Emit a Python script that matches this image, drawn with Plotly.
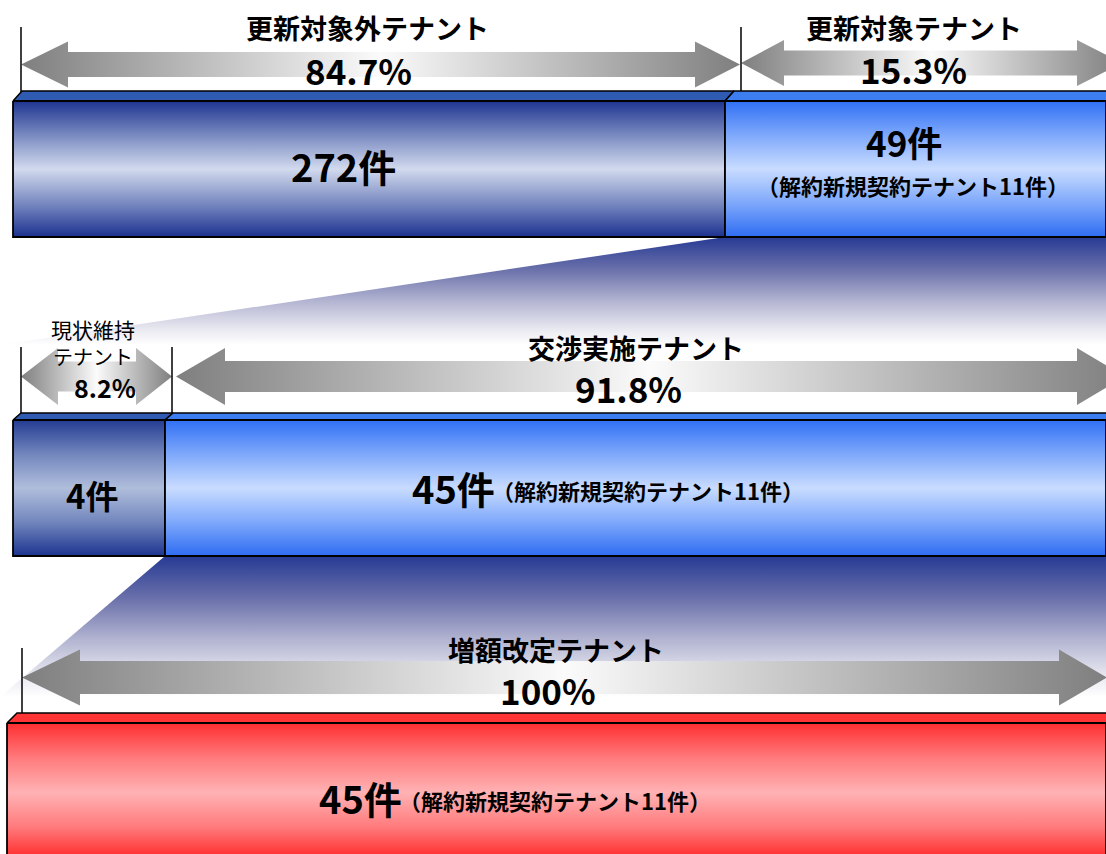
import plotly.graph_objects as go

# ---------------- data ----------------
row1_labels = ["更新対象外テナント", "更新対象テナント"]
row1_counts = [272, 49]
row1_pct = [84.7, 15.3]

row2_labels = ["現状維持\nテナント", "交渉実施テナント"]
row2_counts = [4, 45]
row2_pct = [8.2, 91.8]

row3_labels = ["増額改定テナント"]
row3_counts = [45]
row3_pct = [100]

note_label = "解約新規契約テナント"
note_count = 11

# ---------------- layout geometry (pixel space) ----------------
W, H = 1106, 854
FONT = "Noto Sans CJK JP"

ROW1 = dict(x=[13, 725, 1106], bt=91, mt=101, mb=237, dx=9)
ROW2 = dict(x=[13, 165, 1106], bt=413, mt=420, mb=556, dx=8)
ROW3 = dict(x=[7, 1106], bt=713, mt=723, mb=862, dx=10)

NAVY = [[0, "#1e3490"], [0.22, "#6e80bb"], [0.5, "#d2daee"], [0.78, "#6e80bb"], [1, "#1c3190"]]
NAVY2 = [[0, "#243c92"], [0.25, "#7286bd"], [0.5, "#b0bedc"], [0.75, "#7286bd"], [1, "#1d3490"]]
BLUE = [[0, "#3070f5"], [0.25, "#7ea8fb"], [0.5, "#c9dcff"], [0.75, "#7ea8fb"], [1, "#2e6cf2"]]
RED = [[0, "#ff2e30"], [0.25, "#ff7a7c"], [0.5, "#ffb2b4"], [0.75, "#ff7a7c"], [1, "#ff2020"]]
ARROW = [[0, "#7f7f7f"], [0.5, "#fbfbfb"], [1, "#7f7f7f"]]
SHADOW = [[0, "#263a94"], [0.3, "#6a70aa"], [0.6, "#b4b6d2"], [0.85, "#e8e8f0"], [1, "#ffffff"]]

fig = go.Figure()


def poly(xs, ys, grad=None, gtype="vertical", start=None, stop=None, color=None, line=None):
    kw = dict(x=xs + [xs[0]], y=ys + [ys[0]], mode="lines", fill="toself",
              hoverinfo="skip", showlegend=False,
              line=line or dict(width=0, color="rgba(0,0,0,0)"))
    if grad is not None:
        g = dict(type=gtype, colorscale=grad)
        if start is not None:
            g["start"] = start
            g["stop"] = stop
        kw["fillgradient"] = g
    else:
        kw["fillcolor"] = color
    fig.add_trace(go.Scatter(**kw))


def arrow(x0, x1, yc, hs, hh, hl0, hl1):
    xs = [x0, x0 + hl0, x0 + hl0, x1 - hl1, x1 - hl1, x1, x1 - hl1, x1 - hl1, x0 + hl0, x0 + hl0]
    ys = [yc, yc - hh, yc - hs, yc - hs, yc - hh, yc, yc + hh, yc + hs, yc + hs, yc + hh]
    poly(xs, ys, grad=ARROW, gtype="horizontal", start=x0, stop=x1)


def vline(x, y0, y1):
    fig.add_trace(go.Scatter(x=[x, x], y=[y0, y1], mode="lines", hoverinfo="skip",
                             showlegend=False, line=dict(color="black", width=1.5)))


def block(x0, x1, row, grad, top_color):
    bt, mt, mb, dx = row["bt"], row["mt"], row["mb"], row["dx"]
    poly([x0, x0 + dx, x1 + dx, x1], [mt, bt, bt, mt], color=top_color,
         line=dict(color="black", width=1.5))
    poly([x0, x1, x1, x0], [mt, mt, mb, mb], grad=grad, start=mt, stop=mb,
         line=dict(color="black", width=1.8))


# shadows (connectors)
poly([ROW1["x"][1], W, W, 0], [ROW1["mb"], ROW1["mb"], 345, 345],
     grad=SHADOW, start=ROW1["mb"], stop=345)
poly([ROW2["x"][1], W, W, 0], [ROW2["mb"], ROW2["mb"], 697, 697],
     grad=SHADOW, start=ROW2["mb"], stop=697)

# arrows
arrow(21, 740, 64.5, 12.5, 23, 47, 45)
arrow(741, 1122, 63, 12.5, 23, 43, 45)
arrow(21, 172, 376.5, 15, 28.5, 37, 36)
arrow(176, 1125, 376.5, 15.5, 28.5, 49, 48)
arrow(22, 1107, 677.5, 16.5, 28, 58, 48)

# tick lines
vline(21, 27, 92)
vline(741, 27, 92)
vline(21, 347, 413)
vline(172, 347, 413)
vline(22, 648, 713)

# blocks
block(ROW1["x"][0], ROW1["x"][1], ROW1, NAVY, "#2f5bb2")
block(ROW1["x"][1], ROW1["x"][2], ROW1, BLUE, "#3c7df2")
block(ROW2["x"][0], ROW2["x"][1], ROW2, NAVY2, "#2f5bb2")
block(ROW2["x"][1], ROW2["x"][2], ROW2, BLUE, "#3c7df2")
block(ROW3["x"][0], ROW3["x"][1], ROW3, RED, "#ff3535")


# ---------------- text ----------------
def pct(p):
    return f"{p:g}%" if p == int(p) else f"{p:.1f}%"


def txt(s, x, y, size, bold=True, xanchor="center"):
    fig.add_annotation(x=x, y=y, xref="x", yref="y", text=f"<b>{s}</b>" if bold else s,
                       showarrow=False, xanchor=xanchor, yanchor="middle",
                       font=dict(family=FONT, size=size, color="black"))


note = f"（{note_label}{note_count}件）"

# row 1
txt(row1_labels[0], 367, 27, 27)
txt(pct(row1_pct[0]), 358, 69, 35)
txt(row1_labels[1], 914, 27, 27)
txt(pct(row1_pct[1]), 913, 68, 35)
txt(f"{row1_counts[0]}件", 343, 165, 38)
txt(f"{row1_counts[1]}件", 904, 141, 35)
txt(note, 913, 185, 22)

# row 2
small = row2_labels[0].split("\n")
txt(small[0], 93, 329, 21, bold=False)
txt(small[1], 93, 356, 20, bold=False)
txt(pct(row2_pct[0]), 105, 387, 25)
txt(row2_labels[1], 636, 347, 27)
txt(pct(row2_pct[1]), 628, 387, 35)
txt(f"{row2_counts[0]}件", 92, 495, 33)
txt(f"{row2_counts[1]}件", 497, 487, 38, xanchor="right")
txt(note, 490, 490, 22, xanchor="left")

# row 3
txt(row3_labels[0], 556, 649, 27)
txt(pct(row3_pct[0]), 548, 689, 35)
txt(f"{row3_counts[0]}件", 404, 797, 38, xanchor="right")
txt(note, 397, 800, 22, xanchor="left")

fig.update_layout(
    width=W, height=H, margin=dict(l=0, r=0, t=0, b=0),
    paper_bgcolor="white", plot_bgcolor="white", showlegend=False,
    xaxis=dict(range=[0, W], visible=False, fixedrange=True),
    yaxis=dict(range=[H, 0], visible=False, fixedrange=True),
)

fig.write_html("out.html")
